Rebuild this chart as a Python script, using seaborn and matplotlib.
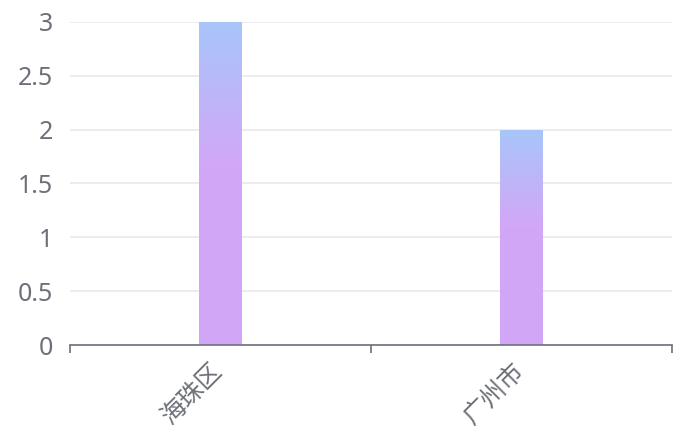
import numpy as np
import pandas as pd
import matplotlib
matplotlib.use("Agg")
import matplotlib.pyplot as plt
import seaborn as sns
from matplotlib.colors import LinearSegmentedColormap
from matplotlib.transforms import ScaledTranslation

categories = ["海珠区", "广州市"]
values = [3, 2]
y_ticks = [0, 0.5, 1, 1.5, 2, 2.5, 3]
y_tick_labels = ["0", "0.5", "1", "1.5", "2", "2.5", "3"]

sns.set_theme(style="white")
plt.rcParams['font.family'] = ['Noto Sans', 'Noto Sans CJK SC', 'DejaVu Sans']

fig = plt.figure(figsize=(6.75, 4.36), dpi=100)
ax = fig.add_axes([70/675, (436-345)/436, (672-70)/675, (345-22)/436])

df = pd.DataFrame({"cat": categories, "val": values})
sns.barplot(data=df, x="cat", y="val", ax=ax, width=0.14, color="#c8aef7",
            linewidth=0, saturation=1)

axis_gray = "#6e7079"
ax.set_xlim(-0.5, 1.5)
ax.set_ylim(0, 3)
ax.set_yticks(y_ticks)
ax.set_yticklabels(y_tick_labels)
ax.grid(axis="y", color="#e6e9f0", linewidth=1.2)
ax.set_axisbelow(True)
for s in ["top", "right", "left"]:
    ax.spines[s].set_visible(False)
ax.spines["bottom"].set_color(axis_gray)
ax.spines["bottom"].set_linewidth(1.2)
ax.set_xlabel("")
ax.set_ylabel("")
ax.tick_params(axis="y", length=0, pad=12, labelsize=18, labelcolor=axis_gray)

# category boundary ticks
ax.set_xticks([-0.5, 0.5, 1.5], minor=True)
ax.tick_params(axis="x", which="minor", bottom=True, length=6, width=1.2,
               color=axis_gray, direction="out")
ax.tick_params(axis="x", which="major", bottom=False, length=0, pad=10,
               labelsize=18, labelcolor=axis_gray)
ax.set_xticks(range(len(categories)))
ax.set_xticklabels(categories, rotation=45, ha="right", va="top",
                   rotation_mode="anchor")
for lab in ax.get_xticklabels():
    lab.set_transform(lab.get_transform() + ScaledTranslation(-0.09, 0, fig.dpi_scale_trans))

# gradient fill of bars
cmap = LinearSegmentedColormap.from_list("g", [(0, "#a8c5fa"), (0.45, "#d2a7f7"), (1, "#d3a6f6")])
grad = np.linspace(0, 1, 256).reshape(-1, 1)
for p in list(ax.patches):
    x0, y0 = p.get_x(), p.get_y()
    w, h = p.get_width(), p.get_height()
    im = ax.imshow(grad, cmap=cmap, aspect="auto", extent=[x0, x0 + w, y0, y0 + h],
                   origin="upper", zorder=p.get_zorder() + 0.1)
    im.set_clip_path(p)
ax.set_xlim(-0.5, 1.5)
ax.set_ylim(0, 3)

fig.savefig("out.png", dpi=100)
